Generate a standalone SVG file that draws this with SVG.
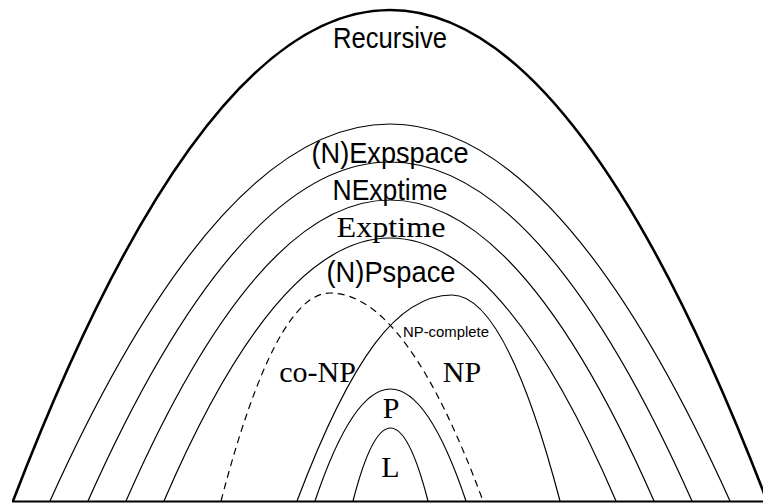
<svg xmlns="http://www.w3.org/2000/svg" width="763" height="503" viewBox="0 0 763 503">
<style>
.c{fill:none;stroke:#000;stroke-width:1.2}
.o{fill:none;stroke:#000;stroke-width:2.6}
.d{fill:none;stroke:#000;stroke-width:1.2;stroke-dasharray:7 5}
.s{font-family:"Liberation Sans",Arial,sans-serif;fill:#000;text-anchor:middle}
.r{font-family:"Liberation Serif","Times New Roman",serif;fill:#000;text-anchor:middle}
</style>
<rect width="763" height="503" fill="#fff"/>
<g id="connectors">
<path class="o" d="M13 501 Q201.5 10 390 10 Q578.5 10 767 501"/>
<path class="c" d="M50 501 Q220 124 390 124 Q560 124 730 501"/>
<path class="c" d="M88 501 Q239 162 390 162 Q541 162 692 501"/>
<path class="c" d="M126 501 Q258 200 390 200 Q522 200 654 501"/>
<path class="c" d="M164 501 Q277 238 390 238 Q503 238 616 501"/>
<path class="d" d="M221 501 Q275.5 293 330 293 Q406.5 293 483 501"/>
<path class="c" d="M297 501 C352 356 398 295 452 295 Q506 295 560 501"/>
<path class="c" d="M315 501 Q352.75 389 390.5 389 Q428.25 389 466 501"/>
<path class="c" d="M353 501 Q371.75 428 390.5 428 Q409.25 428 428 501"/>
<line x1="12" y1="501.5" x2="763" y2="501.5" stroke="#000" stroke-width="2"/>
</g>
<g id="recursive"><text class="s" x="390" y="48" font-size="29" textLength="114" lengthAdjust="spacingAndGlyphs">Recursive</text></g>
<g id="expspace"><text class="s" x="390" y="163" font-size="29" textLength="157" lengthAdjust="spacingAndGlyphs">(N)Expspace</text></g>
<g id="nexptime"><text class="s" x="390" y="200" font-size="29" textLength="115" lengthAdjust="spacingAndGlyphs">NExptime</text></g>
<g id="exptime"><text class="r" x="391" y="237" font-size="29" textLength="109" lengthAdjust="spacingAndGlyphs">Exptime</text></g>
<g id="pspace"><text class="s" x="391" y="282" font-size="29" textLength="129" lengthAdjust="spacingAndGlyphs">(N)Pspace</text></g>
<g id="npcomplete"><text class="s" x="446" y="337" font-size="14.5" textLength="86" lengthAdjust="spacingAndGlyphs">NP-complete</text></g>
<g id="conp"><text class="r" x="317.5" y="382" font-size="30">co-NP</text></g>
<g id="np"><text class="r" x="462" y="382" font-size="30">NP</text></g>
<g id="p"><text class="r" x="391" y="418" font-size="30">P</text></g>
<g id="l"><text class="r" x="390.5" y="477" font-size="30">L</text></g>
</svg>
